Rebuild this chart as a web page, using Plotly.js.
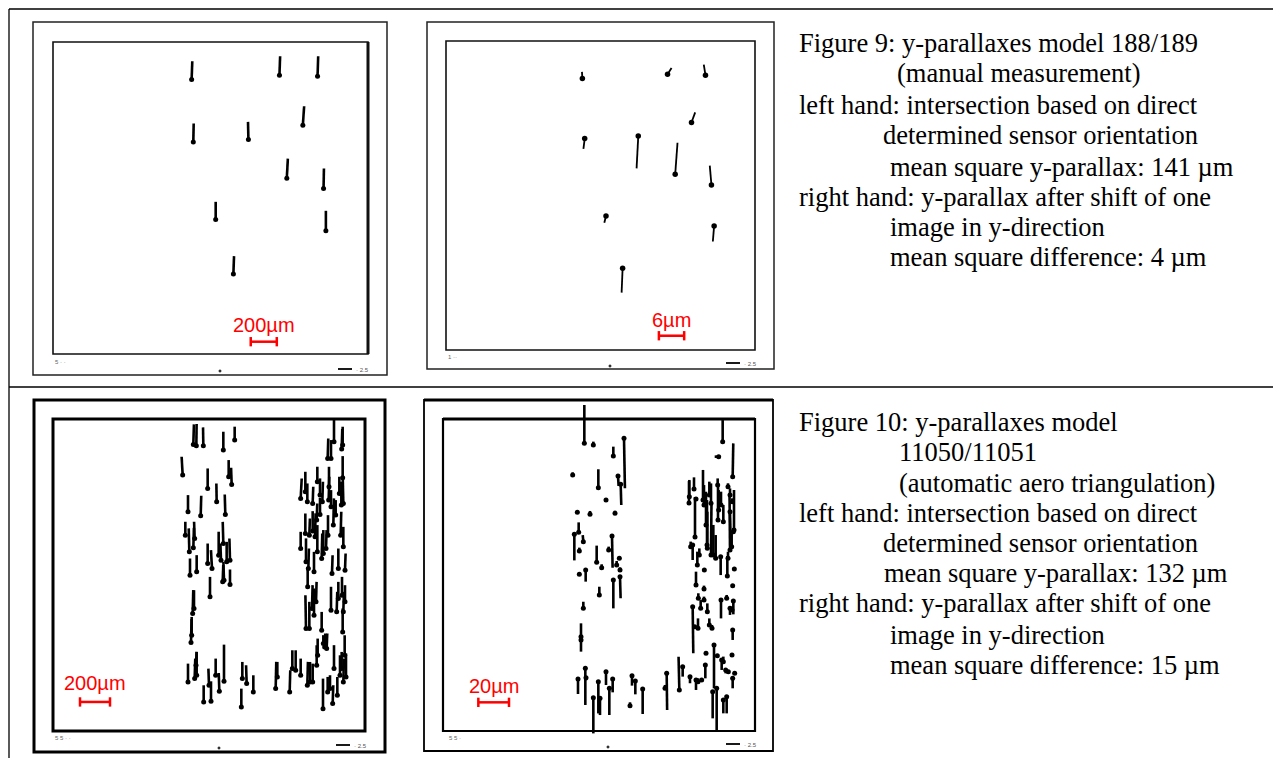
<!DOCTYPE html>
<html><head><meta charset="utf-8">
<script src="https://cdn.plot.ly/plotly-3.0.1.min.js"></script>
<style>html,body{margin:0;padding:0;background:#fff;}#chart{width:1273px;height:758px;}</style>
</head><body><div id="chart"></div>
<script>
// ================= DATA =================
// Point positions: image coordinates in mm (y measured downwards), vectors: y-parallax components in µm
// Figure 9, left hand (intersection with direct sensor orientation)
const p1X  = [103.75,169.5,198,187,105,146.25,175,202.5,121.75,204.25,135];
const p1Y  = [27.75,24.5,25.25,62,74.5,72.75,101.75,109.5,132.75,141.25,173.75];
const p1Vx = [5,5,5,10,3,-3,8,3,0,0,5];
const p1Vy = [141,146,154,146,141,136,151,154,136,154,138];
// Figure 9, right hand (after shift of one image in y)
const p2X  = [102.25,166.25,194.75,184.25,104,144.25,172,199.25,120,201.25,132.5];
const p2Y  = [28.25,25,25.75,61.25,73.25,71.5,100.25,108.25,131.5,139,170.75];
const p2Vx = [-0.1,0.95,-0.4,0.87,-0.3,-0.4,0.55,-0.4,-0.4,-0.3,-0.24];
const p2Vy = [1.6,1.5,2.5,2.4,-2.5,-7.65,7.5,4.6,-1.6,-3.7,-5.8];
// Figure 10, left hand
const p3X = [122.5,124.75,130,145,153.5,114.5,133.25,149,151.25,140,118.5,128,146.5,116.5,119.5,122.5,123.5,145,133.25,136.5,141.5,143.25,147.5,150,120,125,144.5,145.5,150,135,122,123,120.75,121.25,
 223.25,225.75,228,233.75,234.5,203,206.5,208,212,215.5,217.5,219.25,224.25,224,225.75,232,233.5,235,234.5,206.5,209.5,212,213.75,215.5,218.75,220,222,223.5,227.5,229.25,217.5,215,235,233,203,207,208.75,213,208.25,226.5,231.25,236.25,207,209.5,211.5,213,214.5,218.75,225.75,230,231.25,234.5,235,236.25,234,221,
 118.5,123.5,125,124.5,130.25,134.25,135.75,139.25,142,145.5,158.5,159.25,162.5,167.5,184.25,185.5,194.75,196.75,199.25,203,208,210,212,215,215.75,219.75,223.25,220,222.5,225,227,228,230.5,232.5,235,237,233.75,236];
const p3Y = [37,38,38,41.25,33.75,60,70,61.25,67,80,87.5,90.5,89.5,105,117.5,114.5,107.5,111.25,126.25,130,120,123.75,125,123.75,135,132.5,140,138.75,142,151.25,163.75,160,185.5,180,
 47.5,47.5,35,40.5,37.5,77.5,72.5,80,81.25,65,75,80,68.75,78.75,83.75,73.75,82.5,81.25,62,103.75,105,102,106.25,117.5,122.5,118.75,115,105,97.5,90,89.5,93.75,113.75,105,115,125,130,132.5,143.75,133.75,130,131.25,175,175,160,165,155,176.25,161.25,162.5,152.5,177.5,162.5,155,150,188.75,
 215,212.5,210,202.5,230,217.5,229.5,210,222,214.5,233.75,212.5,216.25,222.5,220,211.25,222.5,205,206.25,210,217.5,215,215,202.5,195,235,222.5,186.25,190,220,231.25,205,225,210,215,211.25,205,195];
const p3Vx = [4,2,-2,0,0,-7,0,0,-4,-2,0,4,-4,0,-4,4,-4,-4,0,-7,0,-4,0,-4,0,0,4,-4,0,0,4,0,4,0,
 4,0,0,4,0,7,0,0,4,0,0,4,0,4,0,0,0,-4,0,0,4,0,4,0,4,0,4,0,4,0,0,4,0,4,0,0,4,0,0,4,0,4,-4,0,4,0,4,0,0,4,0,0,4,0,0,4,
 0,4,0,4,0,-4,0,0,-4,0,0,0,-4,0,4,0,4,0,0,0,4,0,0,0,0,0,0,0,4,0,4,0,0,0,4,0,0,0];
const p3Vy = [133,144,122,122,89,122,133,111,111,122,111,133,133,89,156,133,111,144,133,122,156,111,133,144,111,111,111,122,100,133,156,122,156,122,
 133,122,156,133,122,133,133,122,111,100,111,133,133,156,111,111,156,178,144,133,111,133,156,178,167,156,122,133,178,100,111,111,133,156,111,156,133,133,133,122,133,111,222,178,156,178,133,122,156,133,111,156,133,111,122,89,
 122,133,156,89,111,111,133,111,122,244,122,111,122,111,178,100,144,122,133,111,156,133,122,133,111,200,100,56,100,89,122,156,122,133,156,156,111,133];
// Figure 10, right hand
const p4X = [123.25,130,145,153,114.5,133.75,148.5,150.5,139.5,118,127.5,146.25,115.75,119,122.5,119.5,132.5,136.25,144,141.5,145,149.5,150,147.5,119.5,124.25,134.5,122.5,120.75,120.75,150,
 227,234.5,224,202,205.5,207,213,214.5,215.5,217,218.25,220,221.75,223.25,224,225.75,227.5,231,232.5,234.25,232.5,235,231,233.75,203,204.5,208,209.5,213.25,207,213,225.5,230.5,235.75,234.5,204.5,208.75,210.5,213,215.5,217,219,225.75,230,232.5,235,234,206,208.5,234.5,220.5,223,234,
 118.5,124,124.5,130,133.75,135,139.5,142,144.5,157.5,159,161.5,167,185,183.75,194.5,197,202.5,207,208.5,211.25,214,214.5,219.5,222.5,226.25,227.5,229.25,227.5,230,231.25,234.5,236,
 215.25,218.25,212.25,223.5,232.5,235.5,206.25,201.75];
const p4Y = [36.25,37.5,45.75,32.5,60,69.5,60.75,67,78.75,88,89.5,88.75,104.5,103,110,117,125.5,129.5,105.75,116.25,138.75,122.5,136.25,127.5,134.5,131.25,150,160,181.25,183.75,131.25,
 35,61.25,46.25,76.25,70.5,78,82.5,97.5,115,75,81.25,120,122.5,67.5,86.25,82.5,95,68.75,75,80,87.5,102.5,122.5,113.75,113.75,112.5,127.5,120,131.25,142.5,145.5,121.25,135.75,130.5,143,158.75,152.5,160,153.75,162.5,172.5,175,153.75,152.5,160,154.5,161.25,173.75,175,176.25,187.5,195.5,195,
 213,205,212,227,215,227.5,207.5,220,213,233,210.5,214.5,220.5,208.75,220,221.25,203.75,211.25,213.75,215,213.75,202.5,193.75,222.5,220,198.75,200,206.25,228.75,226.25,207.5,212.5,208.75,
 112.5,120,78.75,93.75,116.25,101.25,106.5,81];
const p4Vx = [0,0,0,0.6,0,0,0.4,0.4,0,0,0,0,0,0,-0.4,0,0,0,0.4,0,0,0,0.4,0,0,0,0,0,0,0,0,
 0,0.4,-2.6,0,0,0,0,0,0,0,0,0,0,0,0,0,0,0,0,0,0.4,0,0,0,0,0,0,0,0,0,0,0,0,0,0,0.4,0,0,0,0,0,0,0,0,0,0,0,0,0,0,0,0,0,
 0,0,0,0,0,0,0,0,0,0,0,0,0,0.3,0,-0.5,0,0,0,0,0,0,0,0,0,0,0,0,0,0,0,0,0,
 0,0.3,0,0,-0.3,0,0,0];
const p4Vy = [25,2.2,6.1,-32.6,1.7,12,-6.5,-13.5,1.1,-1.1,2.2,1.7,-17,6.5,4.3,2.2,10.9,2.2,-20.7,2.2,-18.5,1.1,-14.1,2.6,1.1,-7.6,5.4,4.3,8.7,-7.6,1.7,
 14.1,21.7,0,10.9,7.6,1.1,13,21.7,23.9,8.7,13,19.6,15.2,4.3,13,8.7,10.9,2.2,4.3,2.2,-19.6,2.2,4.3,8.7,3.3,-9.8,8.7,4.3,1.1,8.7,2.2,-12,13,1.1,1.1,-30.4,3.3,5.4,2.2,5.4,4.3,2.2,-12,2.2,-4.3,-8.7,2.2,1.1,6.5,-6.5,-28.3,1.1,1.1,
 -9.8,-23.9,-1.7,-23.3,-20.7,-10.9,-8.7,-17.4,-8.7,2.2,-6.5,-8.7,-16.3,-23.9,2.2,21.7,-6.5,-4.3,-6.5,2.2,-1.1,-8.7,1.1,-17.4,-27.2,-6.5,3.3,-2.2,-8.7,-10.9,1.1,-6.5,1.1,
 29.3,32.6,19.6,22.8,35.9,26.1,26.1,14.3];
// scale bars (µm) and vector exaggeration (plot mm per µm)
const scaleBarUm = [200, 6, 200, 20];
const vectorScale = [0.0975, 3.1667, 0.1125, 1.15];
// captions
const fig9Caption = ["Figure 9: y-parallaxes model 188/189","(manual measurement)","left hand: intersection based on direct","determined sensor orientation","mean square y-parallax: 141 µm","right hand: y-parallax after shift of one","image in y-direction","mean square difference: 4 µm"];
const fig10Caption = ["Figure 10: y-parallaxes model","11050/11051","(automatic aero triangulation)","left hand: intersection based on direct","determined sensor orientation","mean square y-parallax: 132 µm","right hand: y-parallax after shift of one","image in y-direction","mean square difference: 15 µm"];

// ================= LAYOUT HELPERS =================
const W = 1273, H = 758;
const fx = p => p / W, fy = p => 1 - p / H;
function lineP(x0,y0,x1,y1,w,c){return {type:'line',xref:'paper',yref:'paper',x0:fx(x0),y0:fy(y0),x1:fx(x1),y1:fy(y1),line:{color:c||'#111',width:w}};}
function rectP(x0,y0,x1,y1,w,c){return {type:'rect',xref:'paper',yref:'paper',x0:fx(x0),y0:fy(y0),x1:fx(x1),y1:fy(y1),line:{color:c||'#111',width:w},fillcolor:'rgba(0,0,0,0)'};}

const panels = [
  {X:p1X,Y:p1Y,VX:p1Vx,VY:p1Vy, box:[33,22,387,375], xr:[-15,250], yr:[249.5,-15.5], lw:2.6, ms:5, bar:[148,224.5,212]},
  {X:p2X,Y:p2Y,VX:p2Vx,VY:p2Vy, box:[427,22,774,369], xr:[-14.5,246.25], yr:[246.5,-14.25], lw:1.8, ms:5.5, bar:[159.75,221.5,209.5]},
  {X:p3X,Y:p3Y,VX:p3Vx,VY:p3Vy, box:[34,400,385,752], xr:[3,266.25], yr:[267.5,3.75], lw:2.6, ms:5, bar:[37.5,230,215.5]},
  {X:p4X,Y:p4Y,VX:p4Vx,VY:p4Vy, box:[424,400,773,751], xr:[3,264.75], yr:[267,3.75], lw:2.6, ms:5, bar:[43.75,230.5,218]}
];

const traces = [], shapes = [], annotations = [];
const layout = {width:W,height:H,margin:{l:0,r:0,t:0,b:0},paper_bgcolor:'#fff',plot_bgcolor:'rgba(0,0,0,0)',showlegend:false,shapes,annotations};

panels.forEach((p,i) => {
  const n = i+1, xa = n===1?'x':'x'+n, ya = n===1?'y':'y'+n;
  const k = vectorScale[i];
  const [bx0,by0,bx1,by1] = p.box;
  layout[n===1?'xaxis':'xaxis'+n] = {domain:[fx(bx0),fx(bx1)],range:p.xr,anchor:ya,visible:false,fixedrange:true};
  layout[n===1?'yaxis':'yaxis'+n] = {domain:[fy(by1),fy(by0)],range:p.yr,anchor:xa,visible:false,fixedrange:true};
  const lx=[], ly=[];
  for (let j=0;j<p.X.length;j++){
    lx.push(p.X[j], p.X[j]+p.VX[j]*k, null);
    ly.push(p.Y[j], p.Y[j]-p.VY[j]*k, null);
  }
  traces.push({type:'scatter',mode:'lines',x:lx,y:ly,xaxis:xa,yaxis:ya,line:{color:'#000',width:p.lw},hoverinfo:'skip'});
  traces.push({type:'scatter',mode:'markers',x:p.X,y:p.Y,xaxis:xa,yaxis:ya,marker:{color:'#000',size:p.ms,symbol:'circle'},cliponaxis:false,hoverinfo:'skip'});
  // red scale bar
  const [sx,sy,ty] = p.bar, L = scaleBarUm[i]*k, red='#ff0000';
  shapes.push({type:'line',xref:xa,yref:ya,x0:sx,x1:sx+L,y0:sy,y1:sy,line:{color:red,width:2.5}});
  shapes.push({type:'line',xref:xa,yref:ya,x0:sx,x1:sx,y0:sy-3.5,y1:sy+3.5,line:{color:red,width:2.5}});
  shapes.push({type:'line',xref:xa,yref:ya,x0:sx+L,x1:sx+L,y0:sy-3.5,y1:sy+3.5,line:{color:red,width:2.5}});
  annotations.push({xref:xa,yref:ya,x:sx+L/2,y:ty,text:scaleBarUm[i]+'µm',showarrow:false,xanchor:'center',yanchor:'middle',font:{family:'Liberation Sans, Arial, sans-serif',size:20,color:red}});
});

// table rules
shapes.push(lineP(9,9,1273,9,1.3,'#000'));
shapes.push(lineP(9,9,9,758,1.3,'#000'));
shapes.push(lineP(9,387,1273,387,1.3,'#000'));
// panel frames (outer sheet and inner fiducial frame)
shapes.push(rectP(33,22,387,375,1.5,'#222'));
shapes.push(rectP(53,42,368,354,1.6,'#111'));
shapes.push(lineP(368,42,368,354,3,'#111'));
shapes.push(rectP(427,22,774,369,1.5,'#222'));
shapes.push(rectP(446,41,755,350,1.6,'#111'));
shapes.push(rectP(34,400,385,752,3,'#000'));
shapes.push(rectP(53,419,365,731,3,'#000'));
shapes.push(rectP(424,400,773,751,1.8,'#000'));
shapes.push(lineP(424,400,773,400,3.2,'#000'));
shapes.push(rectP(443,419,755,731,2.2,'#000'));
shapes.push(lineP(443,419,755,419,3.2,'#000'));
// small sheet footers (tiny scale marks and labels)
const footers = [[53,362,220,371,338,369,'5 · ·','· 2.5'],[446,357,610,366,726,363,'1 ··','· 2.5'],[53,738,219,748,336,745,'5 5 · ·','· 2.5'],[447,738,608,747,726,744,'5 5 ·','· 2.5']];
footers.forEach(f => {
  annotations.push({xref:'paper',yref:'paper',x:fx(f[0]),y:fy(f[1]),text:f[6],showarrow:false,xanchor:'left',yanchor:'middle',font:{family:'Liberation Sans, Arial',size:6,color:'#666'}});
  shapes.push(rectP(f[2]-0.8,f[3]-0.8,f[2]+0.8,f[3]+0.8,1,'#000'));
  shapes.push(lineP(f[4],f[5],f[4]+14,f[5],1.8,'#000'));
  annotations.push({xref:'paper',yref:'paper',x:fx(f[4]+16),y:fy(f[5]+1),text:f[7],showarrow:false,xanchor:'left',yanchor:'middle',font:{family:'Liberation Sans, Arial',size:6,color:'#555'}});
});
// captions
const cap9Pos = [[797,43],[895,73],[797,105],[881,135],[888,167],[797,197],[888,227],[888,257]];
const cap10Pos = [[797,422],[897,452],[897,483],[797,513],[881,543],[882,573],[797,603],[888,635],[888,665]];
function addCaption(lines,pos){
  lines.forEach((t,i)=>annotations.push({xref:'paper',yref:'paper',x:fx(pos[i][0]),y:fy(pos[i][1]),text:t,showarrow:false,xanchor:'left',yanchor:'middle',font:{family:'Liberation Serif, Times New Roman, serif',size:26.5,color:'#000'}}));
}
addCaption(fig9Caption,cap9Pos);
addCaption(fig10Caption,cap10Pos);

Plotly.newPlot('chart',traces,layout,{staticPlot:true,displayModeBar:false});
</script></body></html>
